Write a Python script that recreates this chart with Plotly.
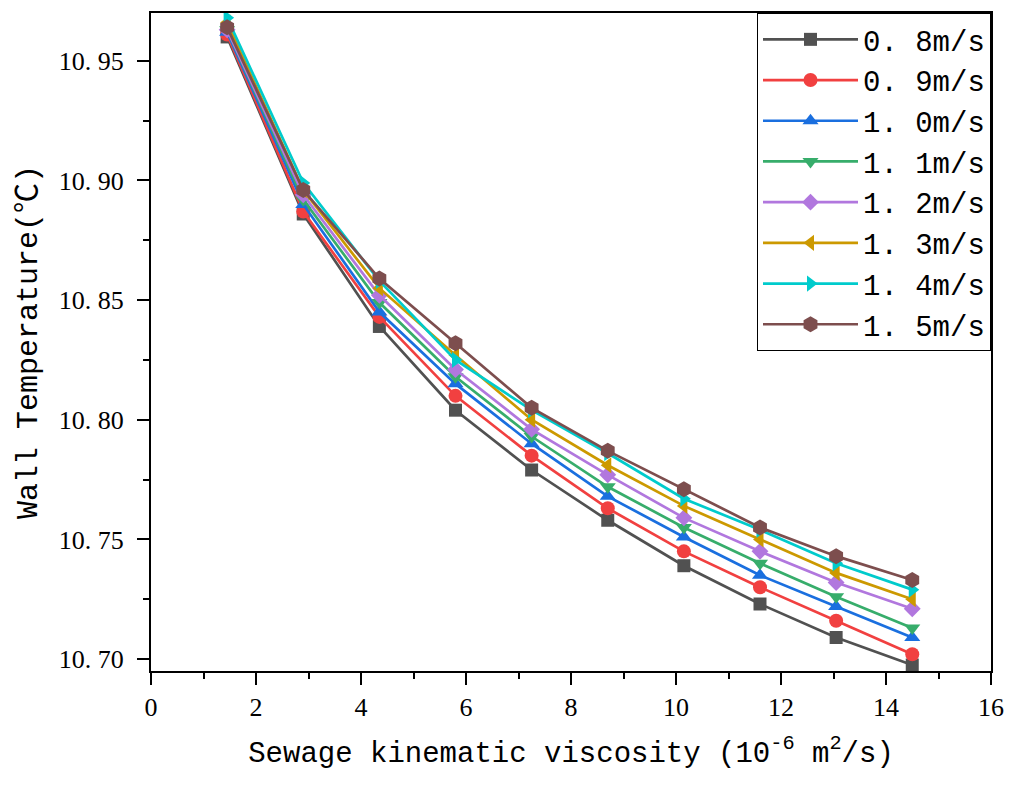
import plotly.graph_objects as go

viscosity = [1.45, 2.90, 4.35, 5.80, 7.25, 8.70, 10.15, 11.60, 13.05, 14.50]

series_names = ["0. 8m/s", "0. 9m/s", "1. 0m/s", "1. 1m/s", "1. 2m/s", "1. 3m/s", "1. 4m/s", "1. 5m/s"]

t_08 = [10.960, 10.886, 10.839, 10.804, 10.779, 10.758, 10.739, 10.723, 10.709, 10.6975]
t_09 = [10.961, 10.887, 10.843, 10.810, 10.785, 10.763, 10.745, 10.730, 10.716, 10.702]
t_10 = [10.962, 10.890, 10.845, 10.815, 10.790, 10.768, 10.751, 10.735, 10.722, 10.709]
t_11 = [10.963, 10.892, 10.849, 10.818, 10.793, 10.772, 10.755, 10.740, 10.726, 10.713]
t_12 = [10.963, 10.894, 10.852, 10.821, 10.796, 10.777, 10.759, 10.745, 10.732, 10.721]
t_13 = [10.966, 10.896, 10.855, 10.827, 10.800, 10.781, 10.764, 10.750, 10.736, 10.725]
t_14 = [10.968, 10.899, 10.858, 10.825, 10.804, 10.786, 10.767, 10.754, 10.740, 10.729]
t_15 = [10.964, 10.896, 10.859, 10.832, 10.805, 10.787, 10.771, 10.755, 10.743, 10.733]

y_tickvals = [10.70, 10.75, 10.80, 10.85, 10.90, 10.95]
y_ticktext = ["10. 70", "10. 75", "10. 80", "10. 85", "10. 90", "10. 95"]
x_tickvals = [0, 2, 4, 6, 8, 10, 12, 14, 16]

all_series = [t_08, t_09, t_10, t_11, t_12, t_13, t_14, t_15]
colors = ["#515151", "#F14040", "#1A6FDF", "#37AD6B", "#B177DE", "#CC9900", "#00CBCC", "#7D4E4E"]
symbols = ["square", "circle", "triangle-up", "triangle-down", "diamond", "triangle-left", "triangle-right", "hexagon"]
sizes = [13, 14, 14, 14, 13, 14, 14, 16]

SERIF = "Liberation Serif, Noto Sans CJK SC, serif"
MONO = "Liberation Mono, Noto Sans CJK SC, monospace"

fig = go.Figure()
for name, ys, c, s, sz in zip(series_names, all_series, colors, symbols, sizes):
    fig.add_trace(go.Scatter(
        x=viscosity, y=ys, name=name, mode="lines+markers",
        line=dict(color=c, width=2.7),
        marker=dict(symbol=s, size=sz, color=c, line=dict(width=0)),
    ))

fig.update_layout(
    width=1015, height=785,
    margin=dict(l=151, r=22, t=11, b=114),
    plot_bgcolor="white", paper_bgcolor="white",
    showlegend=True,
    legend=dict(
        x=1, xanchor="right", y=1, yanchor="top",
        bgcolor="white", bordercolor="black", borderwidth=1,
        font=dict(family=MONO, size=29, color="black"),
        itemwidth=95,
    ),
    xaxis=dict(
        range=[0, 16], tickvals=x_tickvals,
        showgrid=False, zeroline=False,
        showline=True, linecolor="black", linewidth=2, mirror=True,
        ticks="outside", ticklen=12, tickwidth=2, tickcolor="black",
        minor=dict(ticks="outside", ticklen=6, tickwidth=2, tickcolor="black", dtick=1, showgrid=False),
        tickfont=dict(family=SERIF, size=26, color="black"),
        ticklabelstandoff=0,
        title=dict(text="Sewage kinematic viscosity (10<sup>-6</sup> m<sup>2</sup>/s)",
                   font=dict(family=MONO, size=29, color="black"), standoff=20),
    ),
    yaxis=dict(
        range=[10.695, 10.97], tickvals=y_tickvals, ticktext=y_ticktext,
        showgrid=False, zeroline=False,
        showline=True, linecolor="black", linewidth=2, mirror=True,
        ticks="outside", ticklen=12, tickwidth=2, tickcolor="black",
        minor=dict(ticks="outside", ticklen=6, tickwidth=2, tickcolor="black",
                   tickvals=[10.725, 10.775, 10.825, 10.875, 10.925], showgrid=False),
        tickfont=dict(family=SERIF, size=26, color="black"),
        ticklabelstandoff=8,
        title=dict(text="Wall Temperature(℃)", font=dict(family=MONO, size=30, color="black"), standoff=12),
    ),
)

fig.write_html("out.html")
